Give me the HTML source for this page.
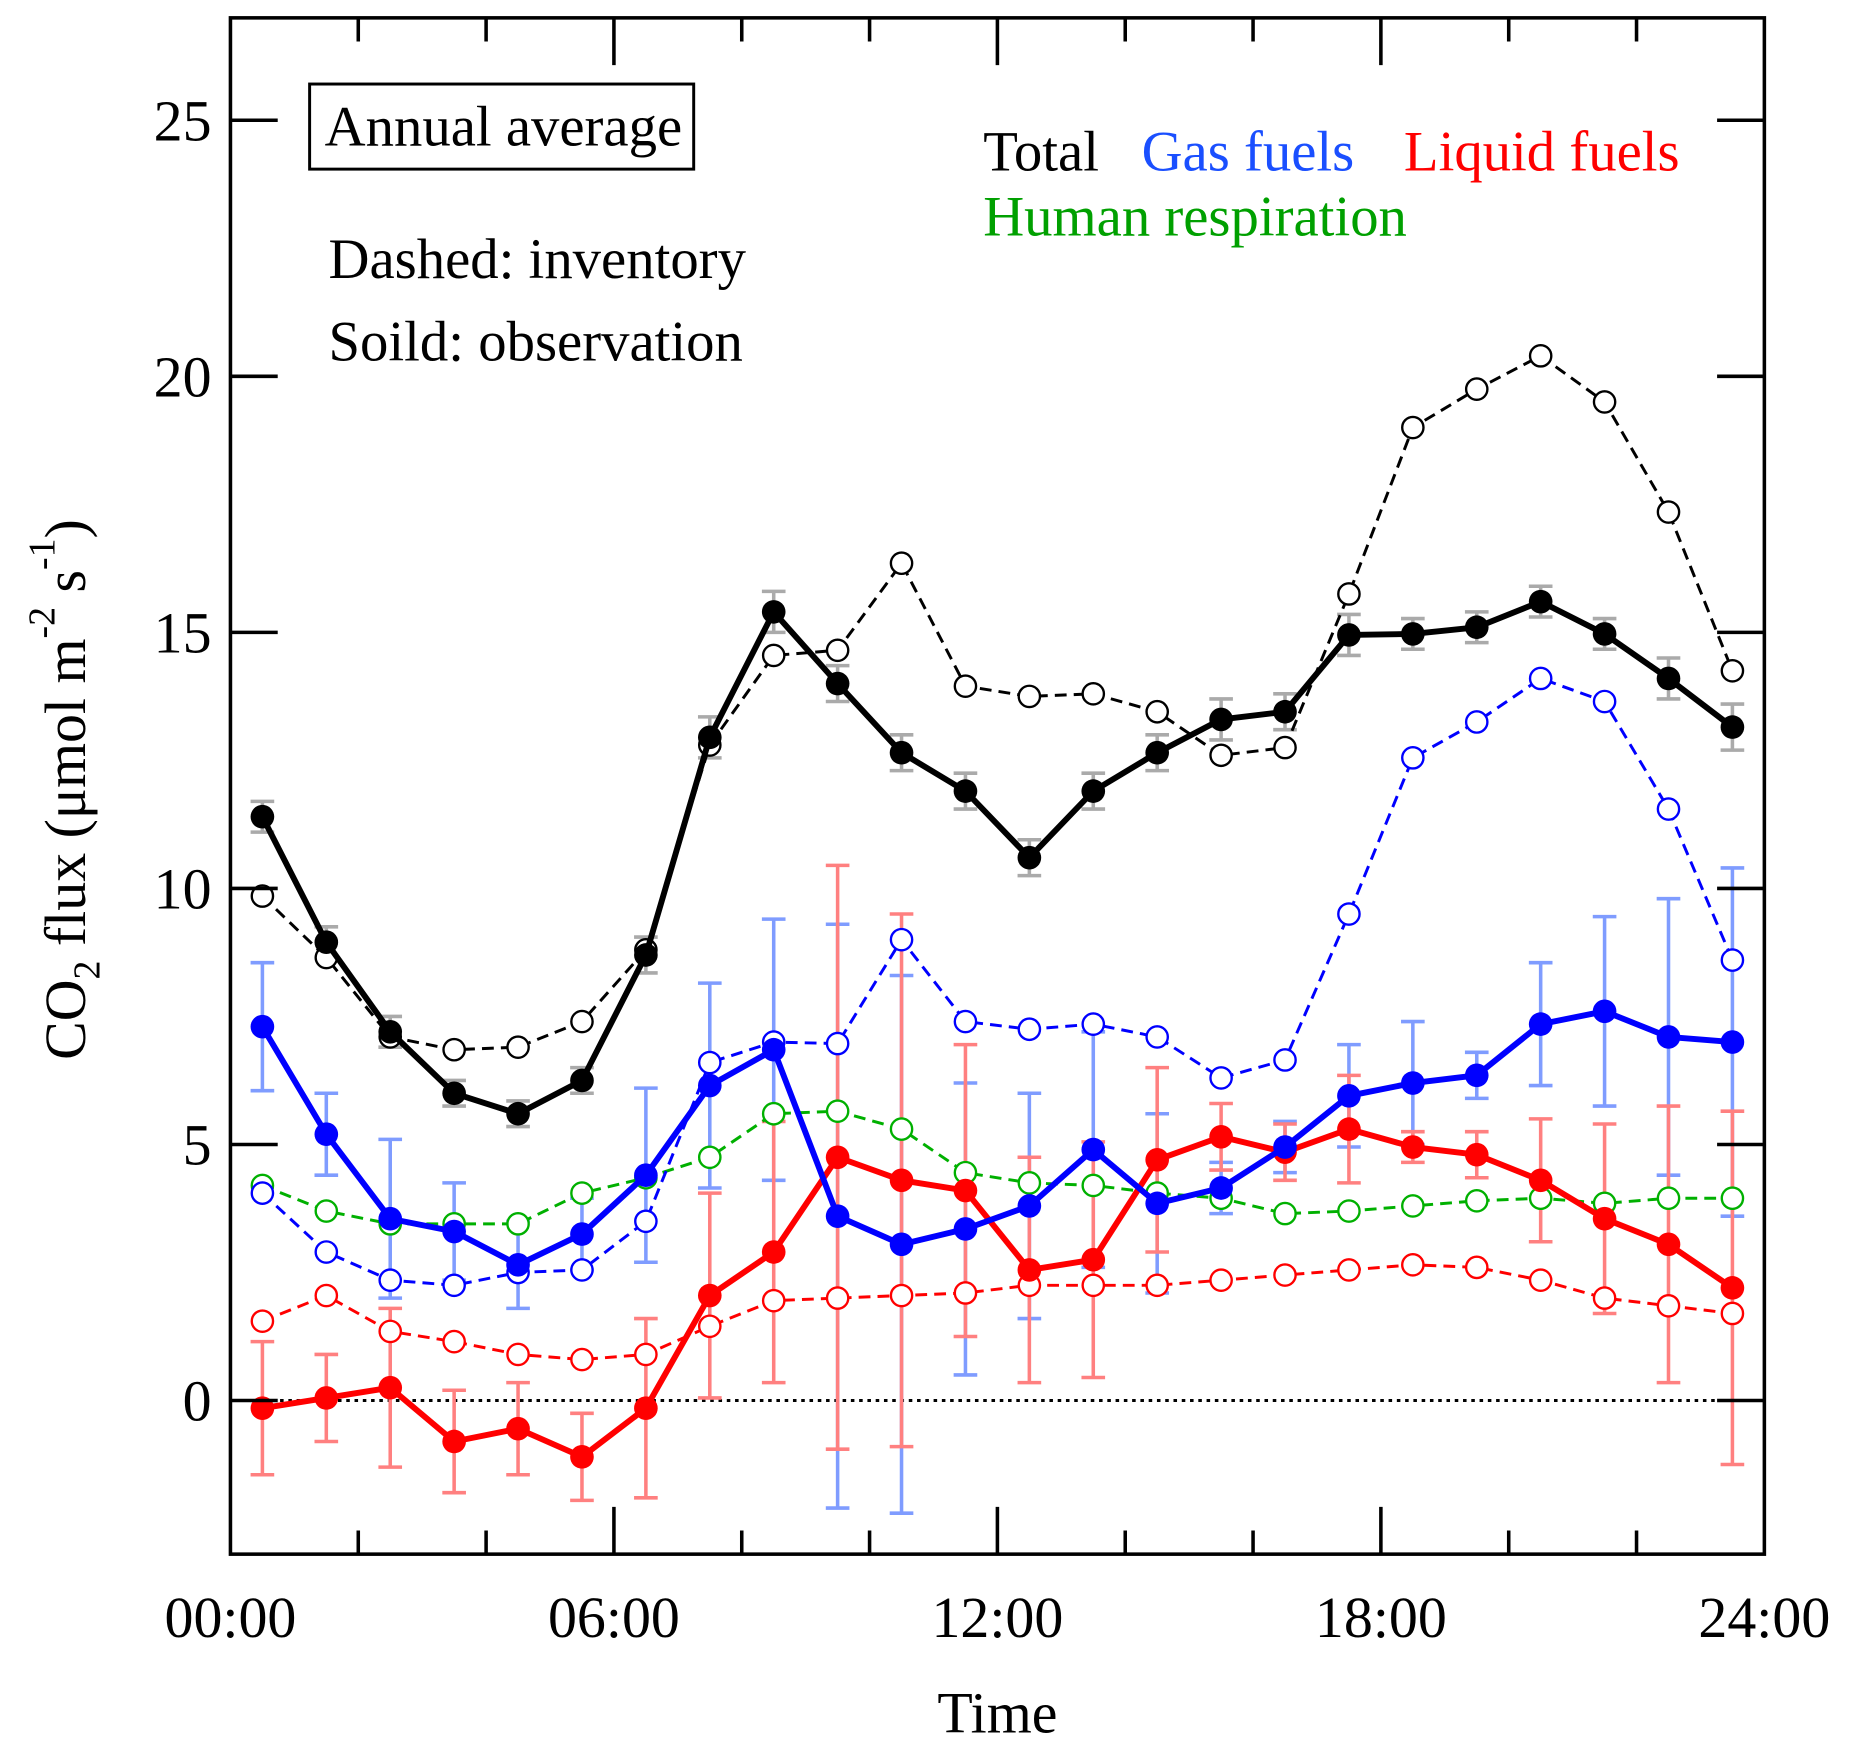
<!DOCTYPE html>
<html><head><meta charset="utf-8"><style>
html,body{margin:0;padding:0;background:#fff;}
body{position:relative;width:1853px;height:1754px;overflow:hidden}
svg{display:block;font-family:"Liberation Serif",serif;}
</style></head><body>
<svg id="chart" width="1853" height="1754" viewBox="0 0 1568 1484" xmlns="http://www.w3.org/2000/svg">
<g id="layer"></g>
</svg>
<script>
const hours = [0.5,1.5,2.5,3.5,4.5,5.5,6.5,7.5,8.5,9.5,10.5,11.5,12.5,13.5,14.5,15.5,16.5,17.5,18.5,19.5,20.5,21.5,22.5,23.5];
const totalObs = [11.4,8.95,7.2,6.0,5.6,6.25,8.7,12.95,15.4,14.0,12.65,11.9,10.6,11.9,12.65,13.3,13.45,14.95,14.97,15.1,15.6,14.97,14.1,13.15];
const totalErr = [0.3,0.3,0.3,0.25,0.25,0.25,0.35,0.4,0.4,0.35,0.35,0.35,0.35,0.35,0.35,0.4,0.35,0.4,0.3,0.3,0.3,0.3,0.4,0.45];
const totalInv = [9.85,8.65,7.1,6.85,6.9,7.4,8.8,12.8,14.55,14.65,16.35,13.95,13.75,13.8,13.45,12.6,12.75,15.75,19.0,19.75,20.4,19.5,17.35,14.25];
const gasObs = [7.3,5.2,3.55,3.3,2.65,3.25,4.4,6.15,6.85,3.6,3.05,3.35,3.8,4.9,3.85,4.15,4.95,5.95,6.2,6.35,7.35,7.6,7.1,7.0];
const gasErr = [1.25,0.8,1.55,0.95,0.85,0.7,1.7,2.0,2.55,5.7,5.25,2.85,2.2,2.3,1.75,0.5,0.5,1.0,1.2,0.45,1.2,1.85,2.7,3.4];
const gasInv = [4.05,2.9,2.35,2.25,2.5,2.55,3.5,6.6,7.0,6.97,9.0,7.4,7.25,7.35,7.1,6.3,6.65,9.5,12.55,13.25,14.1,13.65,11.55,8.6];
const liqObs = [-0.15,0.05,0.25,-0.8,-0.55,-1.1,-0.15,2.05,2.9,4.75,4.3,4.1,2.55,2.75,4.7,5.15,4.85,5.3,4.95,4.8,4.3,3.55,3.05,2.2];
const liqErr = [1.3,0.85,1.55,1.0,0.9,0.85,1.75,2.0,2.55,5.7,5.2,2.85,2.2,2.3,1.8,0.65,0.55,1.05,0.3,0.45,1.2,1.85,2.7,3.45];
const liqInv = [1.55,2.05,1.35,1.15,0.9,0.8,0.9,1.45,1.95,2.0,2.05,2.1,2.25,2.25,2.25,2.35,2.45,2.55,2.65,2.6,2.35,2.0,1.85,1.7];
const humanInv = [4.2,3.7,3.45,3.45,3.45,4.05,4.35,4.75,5.6,5.65,5.3,4.45,4.25,4.2,4.05,3.95,3.65,3.7,3.8,3.9,3.95,3.85,3.95,3.95];
const yTicks = [0,5,10,15,20,25];
const xTickLabels = ["00:00","06:00","12:00","18:00","24:00"];

const L=195,R=1493,T=15,B=1315,YMIN=-3,YMAX=27;
const sx=h=>L+(h/24)*(R-L);
const sy=v=>B-(v-YMIN)/(YMAX-YMIN)*(B-T);
const NS="http://www.w3.org/2000/svg";
const g=document.getElementById('layer');
function mk(tag,attrs,parent){const e=document.createElementNS(NS,tag);for(const k in attrs)e.setAttribute(k,attrs[k]);(parent||g).appendChild(e);return e;}

let zl=mk('line',{x1:L,x2:R,y1:sy(0),y2:sy(0),stroke:'#000','stroke-width':2.5,'stroke-dasharray':'3,4'});



function errorbars(vals,errs,color,name){
  const grp=mk('g',{});
  
  
  vals.forEach((v,i)=>{const x=sx(hours[i]),y1=sy(v-errs[i]),y2=sy(v+errs[i]);
    mk('line',{x1:x,x2:x,y1:y1,y2:y2,stroke:color,'stroke-width':3},grp);
    mk('line',{x1:x-10,x2:x+10,y1:y1,y2:y1,stroke:color,'stroke-width':3},grp);
    mk('line',{x1:x-10,x2:x+10,y1:y2,y2:y2,stroke:color,'stroke-width':3},grp);});
}
function series(vals,color,dashed,name){
  const grp=mk('g',{});
  
  
  const pts=vals.map((v,i)=>sx(hours[i])+','+sy(v)).join(' ');
  mk('polyline',{points:pts,fill:'none',stroke:color,'stroke-width':dashed?2.5:5,'stroke-dasharray':dashed?'10,6':'none','stroke-linejoin':'round'},grp);
  vals.forEach((v,i)=>{
    if(dashed) mk('circle',{cx:sx(hours[i]),cy:sy(v),r:9,fill:'#fff',stroke:color,'stroke-width':2},grp);
    else mk('circle',{cx:sx(hours[i]),cy:sy(v),r:10,fill:color},grp);
  });
}
errorbars(gasObs,gasErr,'#7f9cff','gas-error-bars');
errorbars(liqObs,liqErr,'#ff8080','liquid-error-bars');
errorbars(totalObs,totalErr,'#aaaaaa','total-error-bars');
series(humanInv,'#00b000',true,'human-respiration-inventory');
series(liqInv,'#ff0000',true,'liquid-fuels-inventory');
series(gasInv,'#0000ff',true,'gas-fuels-inventory');
series(totalInv,'#000',true,'total-inventory');
series(liqObs,'#ff0000',false,'liquid-fuels-observation');
series(gasObs,'#0000ff',false,'gas-fuels-observation');
series(totalObs,'#000',false,'total-observation');

let fr=mk('rect',{x:L,y:T,width:R-L,height:B-T,fill:'none',stroke:'#000','stroke-width':3});


yTicks.forEach(v=>{const y=sy(v);
  mk('line',{x1:L,x2:L+40,y1:y,y2:y,stroke:'#000','stroke-width':3});
  mk('line',{x1:R-40,x2:R,y1:y,y2:y,stroke:'#000','stroke-width':3});
  const t=mk('text',{x:179,y:y+17,'text-anchor':'end','font-size':49});t.textContent=v;
  
  
});
for(let h=2;h<24;h+=2){const x=sx(h),len=(h%6===0)?40:20;
  mk('line',{x1:x,x2:x,y1:B,y2:B-len,stroke:'#000','stroke-width':3});
  mk('line',{x1:x,x2:x,y1:T,y2:T+len,stroke:'#000','stroke-width':3});}
xTickLabels.forEach((s,i)=>{const t=mk('text',{x:sx(i*6),y:B+70,'text-anchor':'middle','font-size':49});t.textContent=s;
  
  });
</script>
<svg style="position:absolute;left:0;top:0" width="1853" height="1754" viewBox="0 0 1568 1484" xmlns="http://www.w3.org/2000/svg" font-family="Liberation Serif, serif">
<text x="844" y="1466" text-anchor="middle" font-size="49">Time</text>
<text transform="translate(72,668) rotate(-90)" text-anchor="middle" font-size="49">CO<tspan font-size="32" dy="12">2</tspan><tspan dy="-12"> flux  (μmol m</tspan><tspan font-size="32" dy="-26">-2</tspan><tspan dy="26"> s</tspan><tspan font-size="32" dy="-26">-1</tspan><tspan dy="26">)</tspan></text>
<rect x="262" y="71" width="325" height="72" fill="none" stroke="#000" stroke-width="2.5"/>
<text x="426" y="123" text-anchor="middle" font-size="48">Annual average</text>
<text x="278" y="235" font-size="48">Dashed: inventory</text>
<text x="278" y="305" font-size="48">Soild: observation</text>
<text x="832" y="144" font-size="48" fill="#000">Total</text>
<text x="966" y="144" font-size="48" fill="#1a4fff">Gas fuels</text>
<text x="1188" y="144" font-size="48" fill="#ff0000">Liquid fuels</text>
<text x="832" y="199" font-size="48" fill="#00a000">Human respiration</text>
</svg>
</body></html>
